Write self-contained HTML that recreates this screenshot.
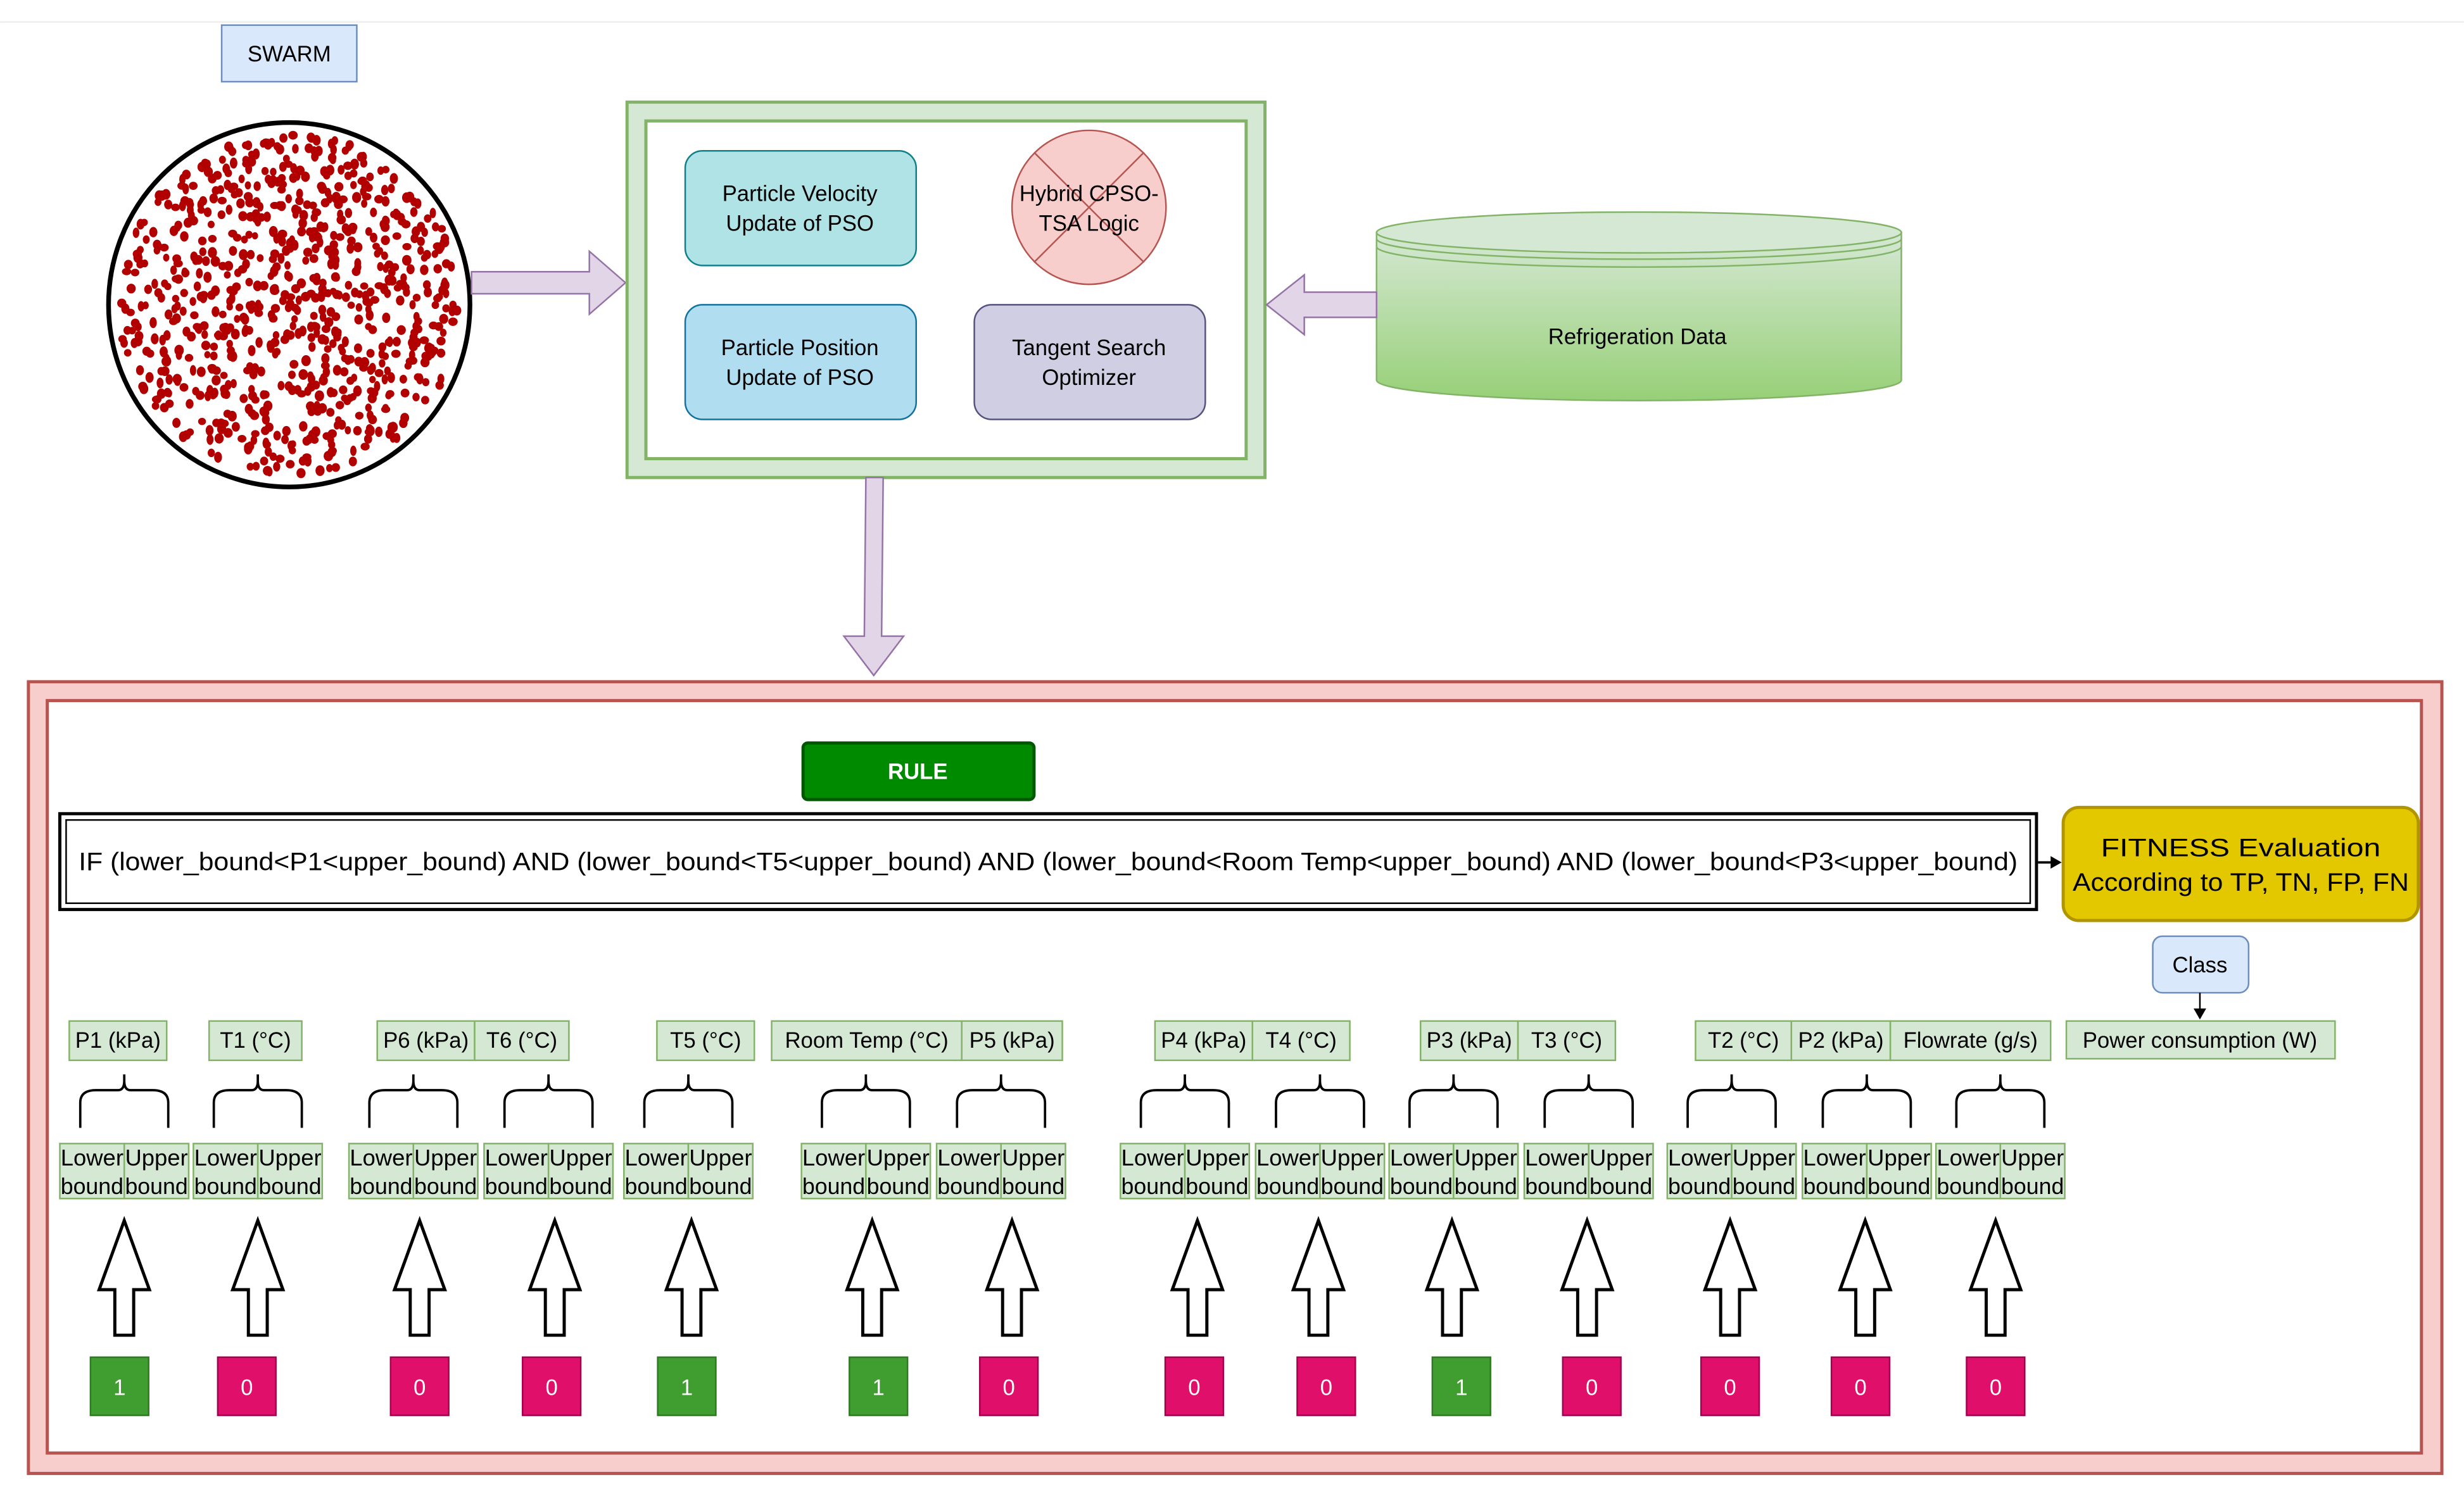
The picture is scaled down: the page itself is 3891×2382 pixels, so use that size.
<!DOCTYPE html>
<html><head><meta charset="utf-8"><style>html,body{margin:0;padding:0;background:#fff}svg{display:block}text{font-family:"Liberation Sans",Arial,sans-serif}</style></head>
<body>
<svg id="s" width="3891" height="2382" viewBox="0 0 1568 960" xmlns="http://www.w3.org/2000/svg">
<rect width="1568" height="960" fill="#fff"/>
<line x1="0" y1="14" x2="1568" y2="14" stroke="#eee" stroke-width="1"/>
<rect x="141" y="16" width="86" height="36" fill="#dae8fc" stroke="#6c8ebf"/>
<text x="184" y="39" font-size="14" text-anchor="middle">SWARM</text>
<ellipse cx="184" cy="194" rx="115" ry="116" fill="#fff"/>
<g id="dots" fill="#b20000"></g>
<ellipse cx="184" cy="194" rx="115" ry="116" fill="none" stroke="#000" stroke-width="3"/>
<path d="M300 173 H375 V160 L398 180 L375 200 V187 H300 Z" fill="#e1d5e7" stroke="#9673a6"/>
<rect x="399" y="65" width="406" height="239" fill="#d5e8d4" stroke="#82b366" stroke-width="2"/>
<rect x="411" y="77" width="382" height="215" fill="#fff" stroke="#82b366" stroke-width="2"/>
<rect x="436" y="96" width="147" height="73" rx="11" fill="#b0e3e6" stroke="#0e8088"/>
<text x="509" y="128" font-size="14" text-anchor="middle">Particle Velocity</text>
<text x="509" y="147" font-size="14" text-anchor="middle">Update of PSO</text>
<rect x="436" y="194" width="147" height="73" rx="11" fill="#b1ddf0" stroke="#10739e"/>
<text x="509" y="226" font-size="14" text-anchor="middle">Particle Position</text>
<text x="509" y="245" font-size="14" text-anchor="middle">Update of PSO</text>
<circle cx="693" cy="132" r="49" fill="#f8cecc" stroke="#b85450"/>
<line x1="658" y1="97" x2="728" y2="167" stroke="#b85450"/><line x1="728" y1="97" x2="658" y2="167" stroke="#b85450"/>
<text x="693" y="128" font-size="14" text-anchor="middle">Hybrid CPSO-</text>
<text x="693" y="147" font-size="14" text-anchor="middle">TSA Logic</text>
<rect x="620" y="194" width="147" height="73" rx="11" fill="#d0cee2" stroke="#56517e"/>
<text x="693" y="226" font-size="14" text-anchor="middle">Tangent Search</text>
<text x="693" y="245" font-size="14" text-anchor="middle">Optimizer</text>
<defs><linearGradient id="g" x1="0" y1="0" x2="0" y2="1"><stop offset="0" stop-color="#d5e8d4"/><stop offset="1" stop-color="#97d077"/></linearGradient></defs>
<path d="M876 148 V242 A167 13 0 0 0 1210 242 V148 Z" fill="url(#g)" stroke="#82b366"/>
<ellipse cx="1043" cy="148" rx="167" ry="13" fill="#d5e8d4" stroke="#82b366"/>
<path d="M876 152 A167 13 0 0 0 1210 152 M876 157 A167 13 0 0 0 1210 157" fill="none" stroke="#82b366"/>
<text x="1042" y="219" font-size="14" text-anchor="middle">Refrigeration Data</text>
<path d="M876 186 H830 V175 L806 194 L830 213 V202 H876 Z" fill="#e1d5e7" stroke="#9673a6"/>
<path d="M551 304 H562 L561 405 H575 L556 430 L537 405 H550 Z" fill="#e1d5e7" stroke="#9673a6"/>
<rect x="18" y="434" width="1536" height="504" fill="#f8cecc" stroke="#b85450" stroke-width="2"/>
<rect x="30" y="446" width="1511" height="479" fill="#fff" stroke="#b85450" stroke-width="2"/>
<rect x="511" y="473" width="147" height="36" rx="3" fill="#008a00" stroke="#005700" stroke-width="2"/>
<text x="584" y="496" font-size="14" font-weight="bold" fill="#fff" text-anchor="middle">RULE</text>
<rect x="38" y="518" width="1258" height="61" fill="#fff" stroke="#000" stroke-width="2"/>
<rect x="42" y="522" width="1250" height="53" fill="none" stroke="#000" stroke-width="1"/>
<text x="50" y="554" font-size="16" textLength="1234" lengthAdjust="spacingAndGlyphs">IF (lower_bound&lt;P1&lt;upper_bound) AND (lower_bound&lt;T5&lt;upper_bound) AND (lower_bound&lt;Room Temp&lt;upper_bound) AND (lower_bound&lt;P3&lt;upper_bound)</text>
<line x1="1297" y1="549" x2="1306" y2="549" stroke="#000" stroke-width="1.5"/>
<path d="M1305 545 L1312 549 L1305 553 Z" fill="#000"/>
<rect x="1313" y="514" width="226" height="72" rx="10" fill="#e3c800" stroke="#b09500" stroke-width="2"/>
<text x="1337" y="545" font-size="16" textLength="178" lengthAdjust="spacingAndGlyphs">FITNESS Evaluation</text>
<text x="1319" y="567" font-size="16" textLength="214" lengthAdjust="spacingAndGlyphs">According to TP, TN, FP, FN</text>
<rect x="1370" y="596" width="61" height="36" rx="6" fill="#dae8fc" stroke="#6c8ebf"/>
<text x="1400" y="619" font-size="14" text-anchor="middle">Class</text>
<line x1="1400" y1="632" x2="1400" y2="644" stroke="#000"/>
<path d="M1396 642 L1400 649 L1404 642 Z" fill="#000"/>
<rect x="1315" y="650" width="171" height="24" fill="#d5e8d4" stroke="#82b366"/>
<text x="1400" y="667" font-size="14" text-anchor="middle">Power consumption (W)</text>
<g id="lab" font-size="14" text-anchor="middle"></g>
</svg>
<script>
var NS="http://www.w3.org/2000/svg",s=document.getElementById('s');
function el(t,a,p,tx){var e=document.createElementNS(NS,t);for(var k in a)e.setAttribute(k,a[k]);if(tx!==undefined)e.textContent=tx;(p||s).appendChild(e);return e;}
var seed=7;function r(){seed=(seed*16807)%2147483647;return seed/2147483647;}
var d=document.getElementById('dots');
for(var i=0;i<820;i++){var a=r()*Math.PI*2,q=Math.sqrt(r())*0.97;var x=184+Math.cos(a)*q*112,y=194+Math.sin(a)*q*113;el('ellipse',{cx:x.toFixed(1),cy:y.toFixed(1),rx:(2+r()).toFixed(1),ry:(2.3+r()*1.2).toFixed(1)},d);}
var g=document.getElementById('lab');
var labels=[[44,106,"P1 (kPa)"],[133,192,"T1 (°C)"],[240,302,"P6 (kPa)"],[302,362,"T6 (°C)"],[418,480,"T5 (°C)"],[491,612,"Room Temp (°C)"],[612,676,"P5 (kPa)"],[735,797,"P4 (kPa)"],[797,859,"T4 (°C)"],[904,966,"P3 (kPa)"],[966,1028,"T3 (°C)"],[1079,1140,"T2 (°C)"],[1140,1203,"P2 (kPa)"],[1203,1305,"Flowrate (g/s)"]];
labels.forEach(function(l){el('rect',{x:l[0],y:650,width:l[1]-l[0],height:25,fill:'#d5e8d4',stroke:'#82b366'},g);el('text',{x:(l[0]+l[1])/2,y:667},g,l[2]);});
var starts=[38,123,222,308,397,510,596,713,799,884,970,1061,1147,1232];
var vals=[1,0,0,0,1,1,0,0,0,1,0,0,0,0];
var vc=[76,157,267,351,437,559,642,760,844,930,1013,1101,1184,1270];
var ac=[79,164,267,353,440,555,644,762,839,924,1010,1101,1187,1270];
starts.forEach(function(x0,i){
 var cx=x0+41;
 [x0,x0+41].forEach(function(x,j){el('rect',{x:x,y:728,width:41,height:35,fill:'#d5e8d4',stroke:'#82b366'},g);
  el('text',{x:x+20.5,y:742,'font-size':14.5,textLength:40,lengthAdjust:'spacingAndGlyphs'},g,j?'Upper':'Lower');
  el('text',{x:x+20.5,y:760,'font-size':14.5,textLength:40,lengthAdjust:'spacingAndGlyphs'},g,'bound');});
 el('path',{d:'M'+(cx-28)+' 718 V702 Q'+(cx-28)+' 694 '+(cx-18)+' 694 H'+(cx-4)+' Q'+cx+' 694 '+cx+' 688 V684 M'+(cx+28)+' 718 V702 Q'+(cx+28)+' 694 '+(cx+18)+' 694 H'+(cx+4)+' Q'+cx+' 694 '+cx+' 688',fill:'none',stroke:'#000','stroke-width':1.5},s);
 var a=ac[i];
 el('path',{d:'M'+a+' 777 L'+(a+16)+' 821 H'+(a+6)+' V850 H'+(a-6)+' V821 H'+(a-16)+' Z',fill:'#fff',stroke:'#000','stroke-width':2},s);
 var c=vc[i],v=vals[i];
 el('rect',{x:c-18.5,y:864,width:37,height:37,fill:v?'#3f9e2f':'#e0106a',stroke:v?'#2d7a20':'#a50050'},s);
 el('text',{x:c,y:888,'font-size':14,fill:'#fff','text-anchor':'middle'},s,String(v));
});
</script>
</body></html>
